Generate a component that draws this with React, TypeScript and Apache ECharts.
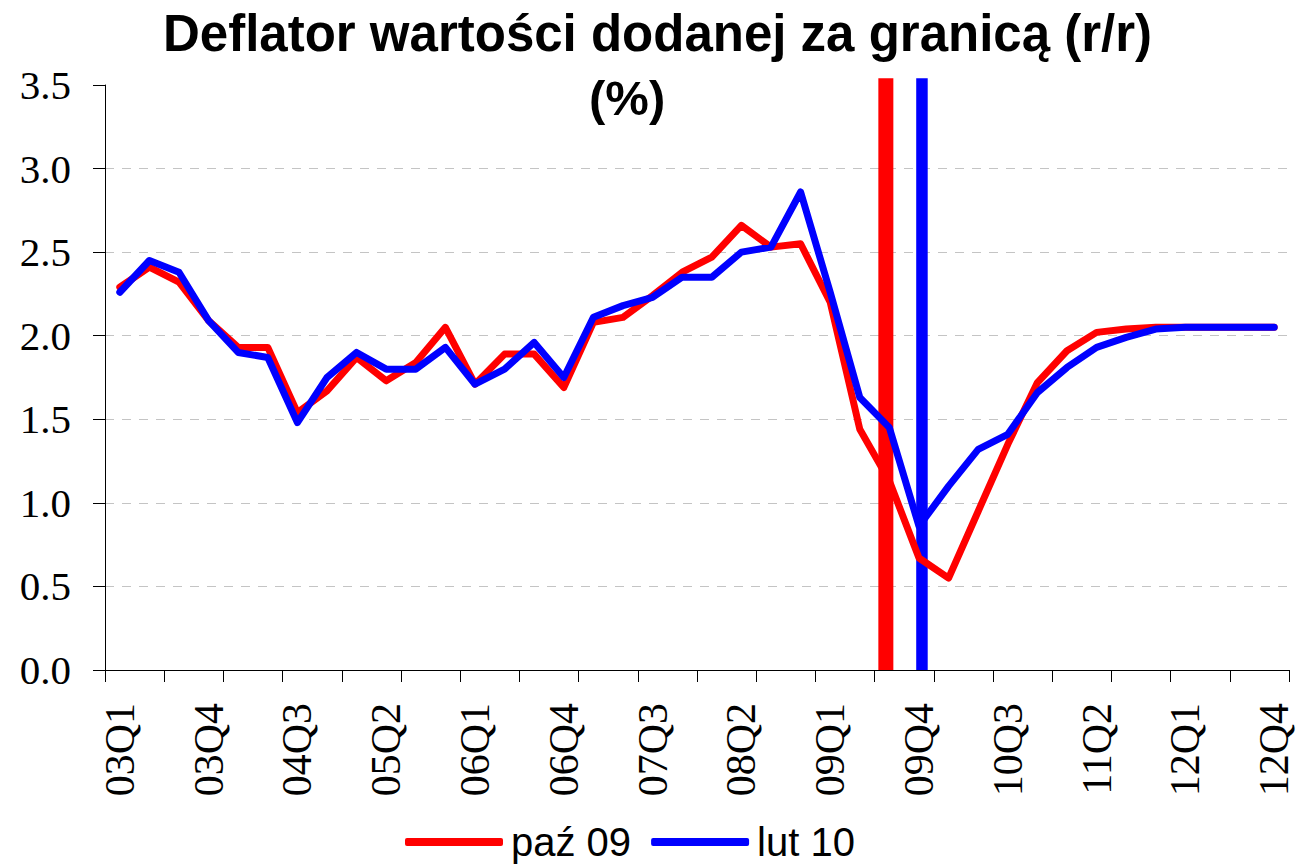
import React, { useEffect, useRef } from "react";
import * as echarts from "echarts";

const categories = [
  "03Q1", "03Q2", "03Q3", "03Q4",
  "04Q1", "04Q2", "04Q3", "04Q4",
  "05Q1", "05Q2", "05Q3", "05Q4",
  "06Q1", "06Q2", "06Q3", "06Q4",
  "07Q1", "07Q2", "07Q3", "07Q4",
  "08Q1", "08Q2", "08Q3", "08Q4",
  "09Q1", "09Q2", "09Q3", "09Q4",
  "10Q1", "10Q2", "10Q3", "10Q4",
  "11Q1", "11Q2", "11Q3", "11Q4",
  "12Q1", "12Q2", "12Q3", "12Q4",
];

const paz09 = [
  2.29, 2.41, 2.32, 2.09, 1.93, 1.93, 1.54, 1.67, 1.87, 1.73,
  1.84, 2.05, 1.71, 1.89, 1.89, 1.69, 2.08, 2.11, 2.24, 2.38,
  2.47, 2.66, 2.53, 2.55, 2.2, 1.44, 1.13, 0.67, 0.55, 0.95,
  1.35, 1.72, 1.91, 2.02, 2.04, 2.05, 2.05, 2.05, 2.05, 2.05,
];

const lut10 = [
  2.26, 2.45, 2.38, 2.09, 1.9, 1.87, 1.48, 1.75, 1.9, 1.8,
  1.8, 1.93, 1.71, 1.8, 1.96, 1.75, 2.11, 2.18, 2.23, 2.35,
  2.35, 2.5, 2.53, 2.86, 2.26, 1.63, 1.45, 0.86, 1.1, 1.32,
  1.41, 1.66, 1.81, 1.93, 1.99, 2.04, 2.05, 2.05, 2.05, 2.05,
];

// forecast-round markers (position in quarters along the time axis, height in %)
const paz09Marker = [[26.38, 0], [26.38, 3.54]];
const lut10Marker = [[27.6, 0], [27.6, 3.54]];

const seriesNames = ["paź 09", "lut 10"];
const titleLine1 = "Deflator wartości dodanej za granicą (r/r)";
const titleLine2 = "(%)";

export default function App() {
  const ref = useRef<HTMLDivElement>(null);

  useEffect(() => {
    document.body.style.margin = "0";
    const chart = echarts.init(ref.current!, null, { renderer: "svg" });
    const serif = "'Liberation Serif', 'Times New Roman', serif";
    const sans = "'Liberation Sans', Arial, sans-serif";
    chart.setOption({
      animation: false,
      backgroundColor: "#ffffff",
      title: [
        {
          text: titleLine1,
          left: 163,
          top: 8,
          padding: 0,
          textStyle: { fontFamily: sans, fontWeight: "bold", fontSize: 51, color: "#000" },
        },
        {
          text: titleLine2,
          left: 589,
          top: 73,
          padding: 0,
          textStyle: { fontFamily: sans, fontWeight: "bold", fontSize: 49, color: "#000" },
        },
      ],
      legend: {
        data: seriesNames,
        left: 405,
        top: 822,
        padding: 0,
        itemGap: 20,
        itemWidth: 98,
        itemHeight: 8,
        icon: "roundRect",
        textStyle: { fontFamily: sans, fontSize: 40, color: "#000", lineHeight: 40, padding: [0, 0, 0, 3] },
      },
      grid: { left: 105, right: 8, top: 85, bottom: 196, containLabel: false },
      xAxis: [
        {
          type: "category",
          data: categories,
          boundaryGap: true,
          axisLine: { lineStyle: { color: "#000", width: 1 } },
          axisTick: { show: true, interval: 1, length: 12, inside: false, lineStyle: { color: "#000" } },
          axisLabel: {
            interval: 2,
            rotate: 90,
            margin: 33,
            fontFamily: serif,
            fontSize: 42,
            color: "#000",
          },
          splitLine: { show: false },
        },
        {
          type: "value",
          min: 0,
          max: 40,
          show: false,
          splitLine: { show: false },
        },
      ],
      yAxis: {
        type: "value",
        min: 0,
        max: 3.5,
        interval: 0.5,
        axisLine: { show: true, lineStyle: { color: "#000", width: 1 } },
        axisTick: { show: true, length: 12, lineStyle: { color: "#000" } },
        axisLabel: {
          margin: 34,
          fontFamily: serif,
          fontSize: 41,
          color: "#000",
          formatter: (v: number) => v.toFixed(1),
        },
        splitLine: {
          show: true,
          showMaxLine: false,
          showMinLine: false,
          lineStyle: { color: "#c4c4c4", type: [9, 8], width: 1 },
        },
      },
      series: [
        {
          name: "paź 09 marker",
          type: "line",
          xAxisIndex: 1,
          data: paz09Marker,
          symbol: "none",
          clip: false,
          silent: true,
          z: 1,
          lineStyle: { color: "#ff0000", width: 15, cap: "butt" },
        },
        {
          name: "lut 10 marker",
          type: "line",
          xAxisIndex: 1,
          data: lut10Marker,
          symbol: "none",
          clip: false,
          silent: true,
          z: 1,
          lineStyle: { color: "#0000ff", width: 11.5, cap: "butt" },
        },
        {
          name: seriesNames[0],
          type: "line",
          data: paz09,
          symbol: "none",
          z: 3,
          itemStyle: { color: "#ff0000" },
          lineStyle: { color: "#ff0000", width: 7, cap: "round", join: "round" },
        },
        {
          name: seriesNames[1],
          type: "line",
          data: lut10,
          symbol: "none",
          z: 4,
          itemStyle: { color: "#0000ff" },
          lineStyle: { color: "#0000ff", width: 7, cap: "round", join: "round" },
        },
      ],
    });
    return () => chart.dispose();
  }, []);

  return <div ref={ref} style={{ width: 1297, height: 866 }} />;
}
